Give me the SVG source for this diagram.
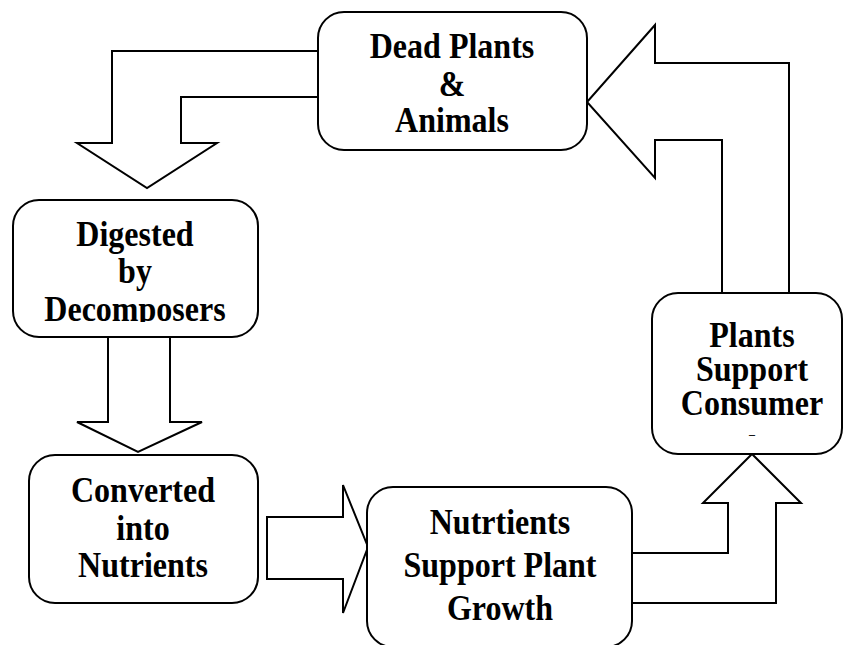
<svg xmlns="http://www.w3.org/2000/svg" width="843" height="645" viewBox="0 0 843 645">
<defs>
<style>
.box{fill:#fff;stroke:#000;stroke-width:2}
.arr{fill:#fff;stroke:#000;stroke-width:2;stroke-linejoin:miter}
.t{font-family:"Liberation Serif","Times New Roman",serif;font-weight:bold;font-size:35px;fill:#000;text-anchor:middle}
</style>
<clipPath id="clipDig"><rect x="13" y="200" width="245" height="122"/></clipPath>
</defs>
<rect width="843" height="645" fill="#fff"/>
<g id="connectors">
<path class="arr" d="M318,51 L112,51 L112,143 L77,143 L147,188 L217,143 L181,143 L181,97 L318,97"/>
<path class="arr" d="M108,337 L108,422 L77,422 L138,452 L202,422 L170,422 L170,337"/>
<path class="arr" d="M267,517 L343,517 L343,485 L368,547 L343,613 L343,579 L267,579 Z"/>
<path class="arr" d="M632,553 L728,553 L728,503 L703,503 L752,454 L801,503 L776,503 L776,603 L632,603"/>
<path class="arr" d="M722,293 L722,140 L655,140 L655,178 L587,102 L655,25 L655,63 L789,63 L789,293"/>
</g>
<g id="dead">
<rect class="box" x="318" y="12" width="269" height="138" rx="26"/>
<text class="t" transform="translate(452,58) scale(0.915,1)">Dead Plants</text>
<text class="t" transform="translate(452,96) scale(0.915,1)">&amp;</text>
<text class="t" transform="translate(452,132) scale(0.915,1)">Animals</text>
</g>
<g id="digested">
<rect class="box" x="13" y="200" width="245" height="137" rx="26"/>
<g clip-path="url(#clipDig)">
<text class="t" transform="translate(135,246) scale(0.915,1)">Digested</text>
<text class="t" transform="translate(135,283) scale(0.915,1)">by</text>
<text class="t" transform="translate(135,321) scale(0.915,1)">Decomposers</text>
</g>
</g>
<g id="converted">
<rect class="box" x="29" y="455" width="229" height="148" rx="26"/>
<text class="t" transform="translate(143,502) scale(0.915,1)">Converted</text>
<text class="t" transform="translate(143,540) scale(0.915,1)">into</text>
<text class="t" transform="translate(143,577) scale(0.915,1)">Nutrients</text>
</g>
<g id="nutrients">
<rect class="box" x="367" y="487" width="265" height="160" rx="26"/>
<text class="t" transform="translate(500,534) scale(0.915,1)">Nutrtients</text>
<text class="t" transform="translate(500,577) scale(0.915,1)">Support Plant</text>
<text class="t" transform="translate(500,620) scale(0.915,1)">Growth</text>
</g>
<g id="plants">
<rect class="box" x="652" y="293" width="190" height="161" rx="26"/>
<text class="t" transform="translate(752,347) scale(0.915,1)">Plants</text>
<text class="t" transform="translate(752,381) scale(0.915,1)">Support</text>
<text class="t" transform="translate(752,415) scale(0.915,1)">Consumer</text>
<text class="t" x="752" y="438" style="font-size:12px">–</text>
</g>
</svg>
